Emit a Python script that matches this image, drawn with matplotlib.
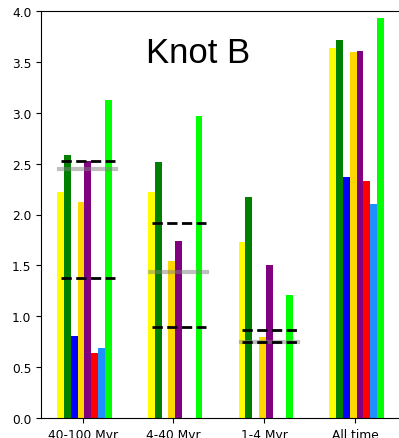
import numpy as np
import matplotlib.pyplot as plt

groups = ['40-100 Myr', '4-40 Myr', '1-4 Myr', 'All time']
colors = ['yellow', 'green', 'blue', 'gold', 'purple', 'red', 'dodgerblue', 'lime']

# one list per bar colour, values per group
yellow = [2.22, 2.22, 1.73, 3.64]
dgreen = [2.585, 2.52, 2.17, 3.715]
blue = [0.81, 0.0, 0.0, 2.37]
gold = [2.12, 1.54, 0.80, 3.60]
purple = [2.53, 1.74, 1.50, 3.61]
red = [0.64, 0.0, 0.0, 2.33]
dblue = [0.69, 0.0, 0.0, 2.10]
lime = [3.13, 2.97, 1.21, 3.93]
series = [yellow, dgreen, blue, gold, purple, red, dblue, lime]

# dashed black reference levels and grey level per group (first three groups)
dash_hi = [2.53, 1.92, 0.865]
dash_lo = [1.38, 0.89, 0.75]
grey = [2.45, 1.43, 0.75]

fig = plt.figure(figsize=(3.99, 4.39), dpi=100)
ax = fig.add_axes([41 / 399, 20 / 439, 1.01 - 41 / 399, 407 / 439])

x = np.arange(len(groups))
w = 0.075
for i, (vals, c) in enumerate(zip(series, colors)):
    ax.bar(x + (i - 3.25) * w, vals, width=w, color=c)

for j in range(3):
    ax.plot([x[j] - 0.26, x[j] + 0.37], [grey[j], grey[j]], color='grey', alpha=0.5, lw=3)
    ax.plot([x[j] - 0.24, x[j] + 0.36], [dash_hi[j], dash_hi[j]], 'k--', lw=2)
    ax.plot([x[j] - 0.24, x[j] + 0.36], [dash_lo[j], dash_lo[j]], 'k--', lw=2)

ax.set_xlim(-0.46, 3.53)
ax.set_ylim(0, 4.0)
ax.set_xticks(x)
ax.set_xticklabels(groups, fontsize=8.8)
ax.tick_params(axis='y', labelsize=8.8)

ax.text(1.27, 3.5, 'Knot B', fontsize=25, family='Liberation Sans', ha='center', va='baseline')

plt.savefig('out.png', dpi=100)
